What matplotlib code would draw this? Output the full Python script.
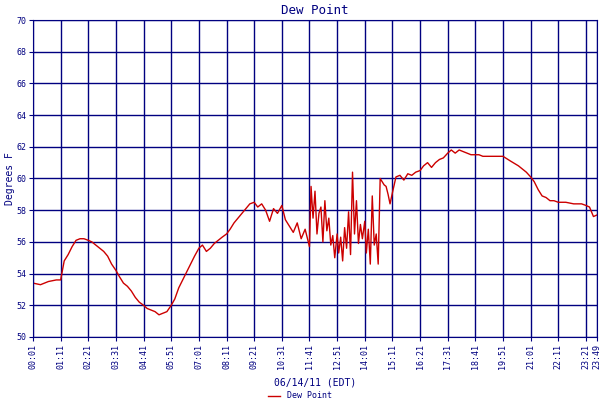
import matplotlib
matplotlib.use("Agg")
import matplotlib.pyplot as plt

times = ["00:01","00:20","00:40","01:00","01:11","01:20","01:30","01:40","01:50","02:00","02:10","02:21","02:30","02:40","02:50",
"03:00","03:10","03:20","03:31","03:40","03:50","04:00","04:10","04:20","04:30","04:41","04:50","05:00","05:10","05:20","05:30",
"05:40","05:51","06:00","06:10","06:20","06:30","06:40","06:50","07:01","07:10","07:20","07:30","07:40","07:50","08:00","08:11",
"08:20","08:30","08:40","08:50","09:00","09:10","09:21","09:30","09:40","09:50","10:00","10:10","10:20","10:31","10:40","10:50",
"11:00","11:10","11:20","11:30","11:41","11:45","11:50","11:55","12:00","12:05","12:10","12:15","12:20","12:25","12:30","12:35",
"12:40","12:45","12:51","12:55","13:00","13:05","13:10","13:15","13:20","13:25","13:30","13:35","13:40","13:45","13:50","13:55",
"14:01","14:05","14:10","14:15","14:20","14:25","14:30","14:35","14:40","14:45","14:50","14:55","15:00","15:05","15:11","15:20",
"15:30","15:40","15:50","16:00","16:10","16:21","16:30","16:40","16:50","17:00","17:10","17:20","17:31","17:40","17:50","18:00",
"18:10","18:20","18:30","18:41","18:50","19:00","19:51","20:10","20:30","20:50","21:01","21:10","21:20","21:30","21:40","21:50",
"22:00","22:11","22:30","22:50","23:10","23:21","23:30","23:40","23:49"]
dew = [53.4,53.3,53.5,53.6,53.6,54.8,55.2,55.7,56.1,56.2,56.2,56.1,56.0,55.8,55.6,
55.4,55.1,54.6,54.2,53.8,53.4,53.2,52.9,52.5,52.2,52.0,51.8,51.7,51.6,51.4,51.5,
51.6,52.0,52.4,53.1,53.6,54.1,54.6,55.1,55.6,55.8,55.4,55.6,55.9,56.1,56.3,56.5,
56.8,57.2,57.5,57.8,58.1,58.4,58.5,58.2,58.4,58.0,57.3,58.1,57.8,58.3,57.4,57.0,
56.6,57.2,56.2,56.8,55.7,59.5,57.5,59.2,56.5,57.8,58.2,56.0,58.6,56.7,57.5,55.8,
56.4,55.0,56.5,55.3,56.3,54.8,56.9,55.6,57.9,55.2,60.4,56.5,58.6,55.9,57.1,56.2,
57.3,55.3,56.8,54.6,58.9,55.8,56.5,54.6,60.0,59.8,59.6,59.5,59.0,58.4,59.1,60.1,
60.2,59.9,60.3,60.2,60.4,60.5,60.8,61.0,60.7,61.0,61.2,61.3,61.6,61.8,61.6,61.8,
61.7,61.6,61.5,61.5,61.5,61.4,61.4,61.1,60.8,60.4,60.1,59.8,59.3,58.9,58.8,58.6,
58.6,58.5,58.5,58.4,58.4,58.3,58.2,57.6,57.7]
tick_labels = ["00:01","01:11","02:21","03:31","04:41","05:51","07:01","08:11","09:21","10:31","11:41",
"12:51","14:01","15:11","16:21","17:31","18:41","19:51","21:01","22:11","23:21","23:49"]
yticks = list(range(50, 71, 2))

def mins(s):
    h, m = s.split(":")
    return int(h) * 60 + int(m)

navy = "#000080"
plt.rcParams['font.family'] = ['DejaVu Sans Mono']
fig = plt.figure(figsize=(6, 4), dpi=100)
ax = fig.add_axes([0.055, 0.1575, 0.94, 0.7925])
ax.plot([mins(t) for t in times], dew, color="#cc0000", lw=1, label="Dew Point")
ax.set_xlim(mins("00:01"), mins("23:49"))
ax.set_ylim(50, 70)
ax.set_xticks([mins(t) for t in tick_labels])
ax.set_xticklabels(tick_labels, rotation=90, fontsize=6, color=navy)
ax.set_yticks(yticks)
ax.set_yticklabels([str(v) for v in yticks], fontsize=6, color=navy)
ax.grid(True, color=navy, lw=1)
for s in ax.spines.values():
    s.set_color(navy)
ax.tick_params(colors=navy, length=3, pad=2)
ax.set_title("Dew Point", color=navy, fontsize=9, pad=4)
ax.set_ylabel("Degrees F", color=navy, fontsize=7, labelpad=1)
ax.set_xlabel("06/14/11 (EDT)", color=navy, fontsize=7, labelpad=6)
fig.legend(loc="lower center", bbox_to_anchor=(0.5, -0.02), frameon=False, fontsize=6,
           labelcolor=navy, handlelength=1.5)
fig.savefig("out.png", dpi=100, facecolor="white")
